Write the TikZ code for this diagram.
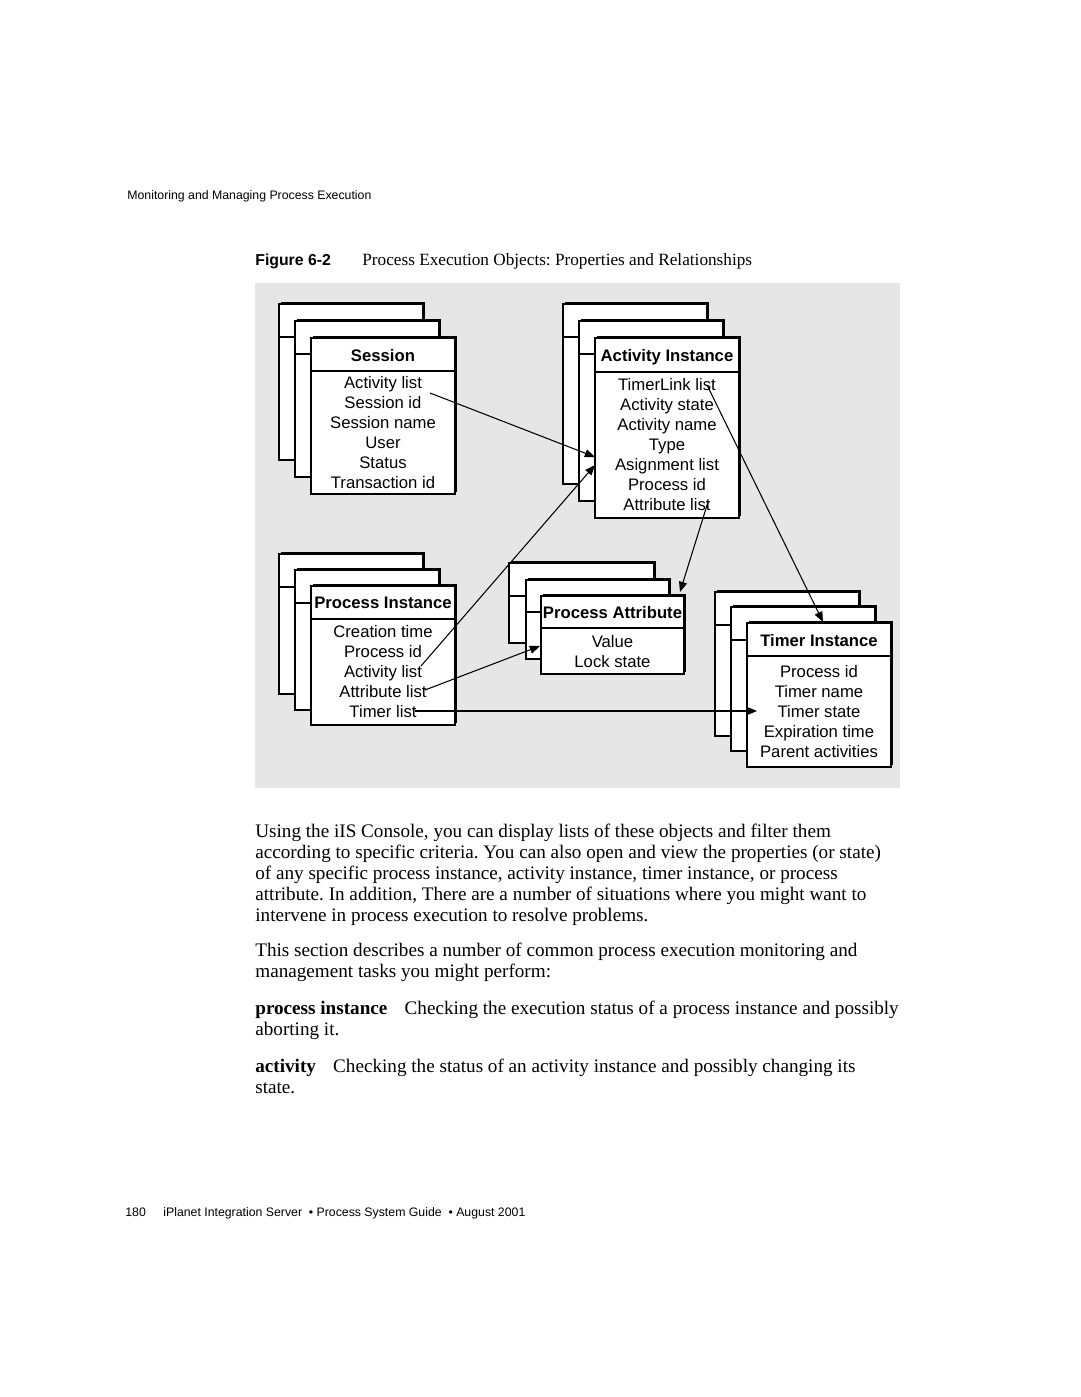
\documentclass[tikz,border=0pt]{standalone}
\usepackage{fontspec}
\setmainfont{Liberation Serif}
\newfontfamily\sansf{Liberation Sans}
\usetikzlibrary{arrows.meta}
\definecolor{panelgray}{HTML}{E6E6E6}
\frenchspacing
\newcommand\objbox[5]{%
  \fill[black] (#1+2,#2-2) rectangle (#3+2,#4-2);
  \filldraw[fill=white,draw=black,line width=0.6pt] (#1,#2) rectangle (#3,#4);
  \draw[line width=0.6pt] (#1,#5) -- (#3,#5);
}
\tikzset{
  item/.style={anchor=base,inner sep=0pt,font=\sansf\fontsize{9.5}{11}\selectfont},
  head/.style={anchor=base,inner sep=0pt,font=\sansf\bfseries\fontsize{9.5}{11}\selectfont},
  body/.style={anchor=base west,inner sep=0pt,font=\fontsize{10.9}{13}\selectfont},
  small/.style={anchor=base west,inner sep=0pt,font=\sansf\fontsize{7}{8}\selectfont},
  link/.style={line width=0.6pt,-{Triangle[length=5.8pt,width=4.6pt]}}
}
\begin{document}
\begin{tikzpicture}[x=0.02cm,y=-0.02cm]
\useasboundingbox (0,0) rectangle (1080,1397);
\fill[white] (0,0) rectangle (1080,1397);

% running header
\node[small] (runhead) at (127,199) {Monitoring and Managing Process Execution};

% caption
\node[anchor=base west,inner sep=0pt,font=\sansf\bfseries\fontsize{9}{11}\selectfont] (figlab) at (255,265) {Figure 6-2};
\node[anchor=base west,inner sep=0pt,font=\fontsize{9.8}{12}\selectfont] (figcap) at (362,265) {Process Execution Objects: Properties and Relationships};

% panel
\fill[panelgray] (255,283) rectangle (900,788);

% Session stack
\objbox{279}{304}{423}{460}{337}
\objbox{295}{321}{439}{477}{354}
\objbox{311}{338}{455}{494}{371}
\node[head] (sh) at (383,361) {Session};
\node[item] (s1) at (383,388) {Activity list};
\node[item] (s2) at (383,408) {Session id};
\node[item] (s3) at (383,428) {Session name};
\node[item] (s4) at (383,448) {User};
\node[item] (s5) at (383,468) {Status};
\node[item] (s6) at (383,488) {Transaction id};

% Activity Instance stack
\objbox{563}{304}{707}{484}{337}
\objbox{579}{321}{723}{501}{354}
\objbox{595}{338}{739}{518}{372}
\node[head] (ah) at (667,361) {Activity Instance};
\node[item] (a1) at (667,390) {TimerLink list};
\node[item] (a2) at (667,410) {Activity state};
\node[item] (a3) at (667,430) {Activity name};
\node[item] (a4) at (667,450) {Type};
\node[item] (a5) at (667,470) {Asignment list};
\node[item] (a6) at (667,490) {Process id};
\node[item] (a7) at (667,510) {Attribute list};

% Process Instance stack
\objbox{279}{554}{423}{694}{587}
\objbox{295}{570}{439}{710}{603}
\objbox{311}{586}{455}{725}{619}
\node[head] (ph) at (383,608) {Process Instance};
\node[item] (p1) at (383,637) {Creation time};
\node[item] (p2) at (383,657) {Process id};
\node[item] (p3) at (383,677) {Activity list};
\node[item] (p4) at (383,697) {Attribute list};
\node[item] (p5) at (383,717) {Timer list};

% Process Attribute stack
\objbox{509}{563}{654}{643}{596}
\objbox{526}{580}{669}{659}{612}
\objbox{541}{596}{684}{674}{628}
\node[head] (th) at (612.5,618) {Process Attribute};
\node[item] (t1) at (612.5,647) {Value};
\node[item] (t2) at (612.5,667) {Lock state};

% Timer Instance stack
\objbox{715}{592}{859}{736}{625}
\objbox{731}{607}{875}{751}{640}
\objbox{747}{623}{891}{767}{656}
\node[head] (mh) at (819,646) {Timer Instance};
\node[item] (m1) at (819,677) {Process id};
\node[item] (m2) at (819,697) {Timer name};
\node[item] (m3) at (819,717) {Timer state};
\node[item] (m4) at (819,737) {Expiration time};
\node[item] (m5) at (819,757) {Parent activities};

% connector end points
\coordinate (c1s) at (430,393);  \coordinate (c1e) at (595,457);
\coordinate (c2s) at (421,666);  \coordinate (c2e) at (595,465);
\coordinate (c3s) at (708,502);  \coordinate (c3e) at (680,592);
\coordinate (c4s) at (707,385);  \coordinate (c4e) at (823,622);
\coordinate (c5s) at (425,690);  \coordinate (c5e) at (540,646);
\coordinate (c6s) at (415,711);  \coordinate (c6e) at (757,711);

\draw[link] (c1s) -- (c1e);
\draw[link] (c2s) -- (c2e);
\draw[link] (c3s) -- (c3e);
\draw[link] (c4s) -- (c4e);
\draw[link] (c5s) -- (c5e);
\draw[link] (c6s) -- (c6e);

% body text
\node[body] (b1) at (255,837) {Using the iIS Console, you can display lists of these objects and filter them};
\node[body] (b2) at (255,858) {according to specific criteria. You can also open and view the properties (or state)};
\node[body] (b3) at (255,879) {of any specific process instance, activity instance, timer instance, or process};
\node[body] (b4) at (255,900) {attribute. In addition, There are a number of situations where you might want to};
\node[body] (b5) at (255,921) {intervene in process execution to resolve problems.};
\node[body] (b6) at (255,956) {This section describes a number of common process execution monitoring and};
\node[body] (b7) at (255,977) {management tasks you might perform:};
\node[body] (b8) at (255,1014) {\textbf{process instance}\hspace{0.9em}Checking the execution status of a process instance and possibly};
\node[body] (b9) at (255,1035) {aborting it.};
\node[body] (b10) at (255,1072) {\textbf{activity}\hspace{0.9em}Checking the status of an activity instance and possibly changing its};
\node[body] (b11) at (255,1093) {state.};

% footer
\node[small] (pg) at (125,1216) {180};
\node[small] (foot) at (163,1216) {iPlanet Integration Server\ \ \textbullet\ Process System Guide\ \ \textbullet\ August 2001};
\end{tikzpicture}
\end{document}
